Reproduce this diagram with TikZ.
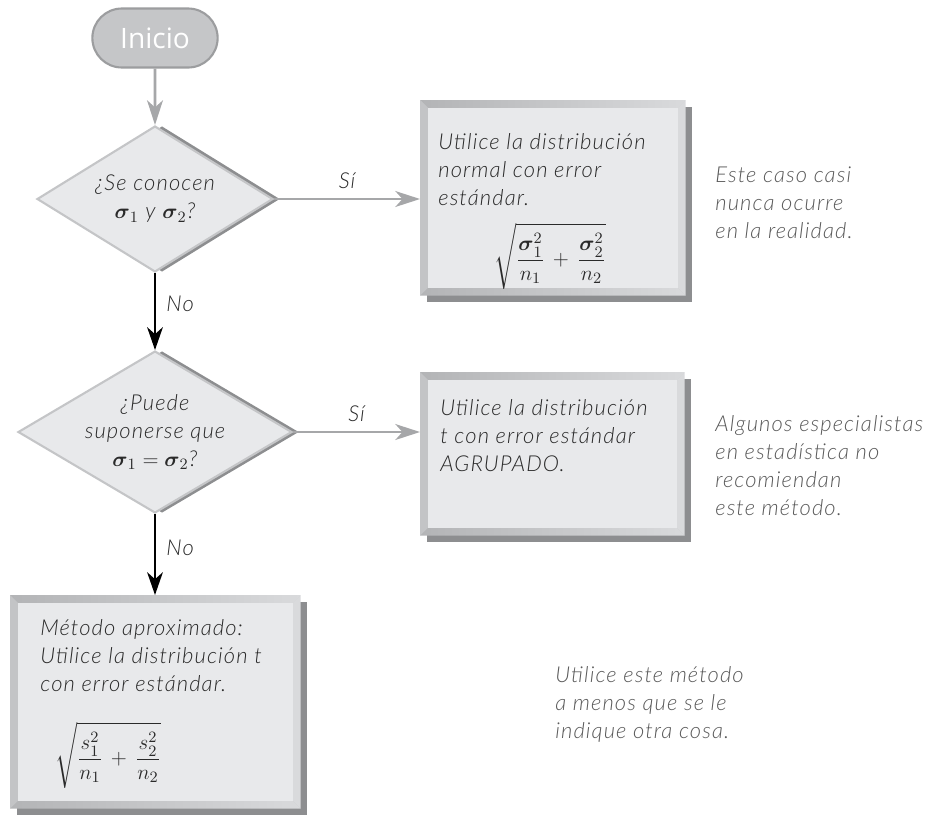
\documentclass[tikz,border=0pt]{standalone}
\usepackage{amsmath,amssymb}
\usepackage{fontspec}
\setmainfont{Lato}
\newfontfamily\hand{Lato Light Italic}[LetterSpace=5]
\newfontfamily\pillfont{Open Sans}
\usetikzlibrary{shapes.geometric, shapes.misc, arrows.meta, positioning, calc, shadows}
\definecolor{panelin}{HTML}{E8E9EB}
\definecolor{frametop}{HTML}{C3C4C6}
\definecolor{frameside}{HTML}{B3B4B6}
\definecolor{framelight}{HTML}{D9DADC}
\definecolor{shadowgray}{HTML}{8D8E90}
\definecolor{diamedge}{HTML}{C4C5C7}
\definecolor{arrowgray}{HTML}{A6A7A9}
\definecolor{pillgray}{HTML}{C5C6C8}
\definecolor{pilledge}{HTML}{9C9D9F}
\definecolor{ink}{HTML}{2A2A2A}
\definecolor{notegray}{HTML}{5A5A5A}

\begin{document}
\begin{tikzpicture}[x=0.02cm, y=-0.02cm,
    hand/.style={font=\hand\fontsize{12.5}{15.9}\selectfont, align=left, inner sep=0, text=ink},
    note/.style={hand, text=notegray},
    lbl/.style={font=\hand\fontsize{12.5}{14}\selectfont, inner sep=0, text=ink},
    formula/.style={inner sep=0, text=ink, font=\fontsize{12.5}{15}\selectfont},
    pill/.style={rounded rectangle, minimum width=2.74cm, minimum height=1.18cm, fill=pillgray, draw=pilledge, line width=1.2pt, text=white, font=\pillfont\fontsize{16}{19}\selectfont},
    decision/.style={diamond, aspect=1.65, hand, align=center, fill=panelin, draw=diamedge, line width=1.2pt, drop shadow={shadow xshift=4pt, shadow yshift=0pt, fill=shadowgray, opacity=1}},
    panel/.style={rectangle, anchor=north west, inner sep=0, fill=frametop, drop shadow={shadow xshift=3.8pt, shadow yshift=-3.8pt, fill=shadowgray, opacity=1}},
    yes/.style={draw=arrowgray, line width=1.5pt, -{Stealth[length=14pt, width=9pt, inset=4pt]}},
    no/.style={draw=black, line width=1pt, -{Stealth[length=13pt, width=9pt, inset=4pt]}}]
    \path[use as bounding box, fill=white] (0,0) rectangle (935,819);

    \node[pill] (inicio) at (155,38) {Inicio};
    \node[decision, minimum width=4.72cm, minimum height=2.92cm] (q1) at (155,199) {¿Se conocen\\$\boldsymbol{\sigma}_1$ y $\boldsymbol{\sigma}_2$?};
    \node[decision, minimum width=5.48cm, minimum height=3.24cm] (q2) at (155,432) {¿Puede\\suponerse que\\$\boldsymbol{\sigma}_1 = \boldsymbol{\sigma}_2$?};

    \node[panel, minimum width=5.3cm, minimum height=3.9cm] (normal) at (420,100) {};
    \node[panel, minimum width=5.28cm, minimum height=3.26cm] (pooled) at (420,372) {};
    \node[panel, minimum width=5.8cm, minimum height=4.26cm] (approx) at (10,595) {};
    \foreach \b in {normal,pooled,approx}{
        \shade[left color=frameside, right color=framelight] (\b.north west) -- (\b.north east) -- ([shift={(-8,8)}]\b.north east) -- ([shift={(8,8)}]\b.north west) -- cycle;
        \shade[left color=frameside, right color=framelight] (\b.south west) -- (\b.south east) -- ([shift={(-8,-8)}]\b.south east) -- ([shift={(8,-8)}]\b.south west) -- cycle;
        \fill[frametop] (\b.north west) -- (\b.south west) -- ([shift={(8,-8)}]\b.south west) -- ([shift={(8,8)}]\b.north west) -- cycle;
        \fill[framelight] (\b.north east) -- (\b.south east) -- ([shift={(-8,-8)}]\b.south east) -- ([shift={(-8,8)}]\b.north east) -- cycle;
        \fill[panelin] ([shift={(8,8)}]\b.north west) rectangle ([shift={(-8,-8)}]\b.south east);
    }

    \node[hand, anchor=base west] (normaltxt) at (438,205) {Utilice la distribución\\normal con error\\estándar.};
    \node[formula] (normalse) at (550,256) {$\displaystyle\sqrt{\frac{\boldsymbol{\sigma}_1^2}{n_1}\,+\,\frac{\boldsymbol{\sigma}_2^2}{n_2}}$};
    \node[hand, anchor=base west] (pooledtxt) at (440,471) {Utilice la distribución\\t con error estándar\\AGRUPADO.};
    \node[hand, anchor=base west] (approxtxt) at (40,691) {Método aproximado:\\Utilice la distribución t\\con error estándar.};
    \node[formula] (approxse) at (108,755) {$\displaystyle\sqrt{\frac{s_1^2}{n_1}\,+\,\frac{s_2^2}{n_2}}$};

    \node[note, anchor=base west] (note1) at (715,238) {Este caso casi\\nunca ocurre\\en la realidad.};
    \node[note, anchor=base west] (note2) at (715,515) {Algunos especialistas\\en estadística no\\recomiendan\\este método.};
    \node[note, anchor=base west] (note3) at (555,738) {Utilice este método\\a menos que se le\\indique otra cosa.};

    \draw[yes] (inicio) -- (q1);
    \draw[yes] (q1.east) -- (q1.east -| normal.west) node[lbl, midway, above=5pt] {Sí};
    \draw[yes] (q2.east) -- (q2.east -| pooled.west) node[lbl, midway, above=5pt] {Sí};
    \draw[no] (q1) -- (q2) node[lbl, pos=0.4, right=6pt] {No};
    \draw[no] (q2.south) -- (q2.south |- approx.north) node[lbl, pos=0.42, right=6pt] {No};
\end{tikzpicture}
\end{document}
